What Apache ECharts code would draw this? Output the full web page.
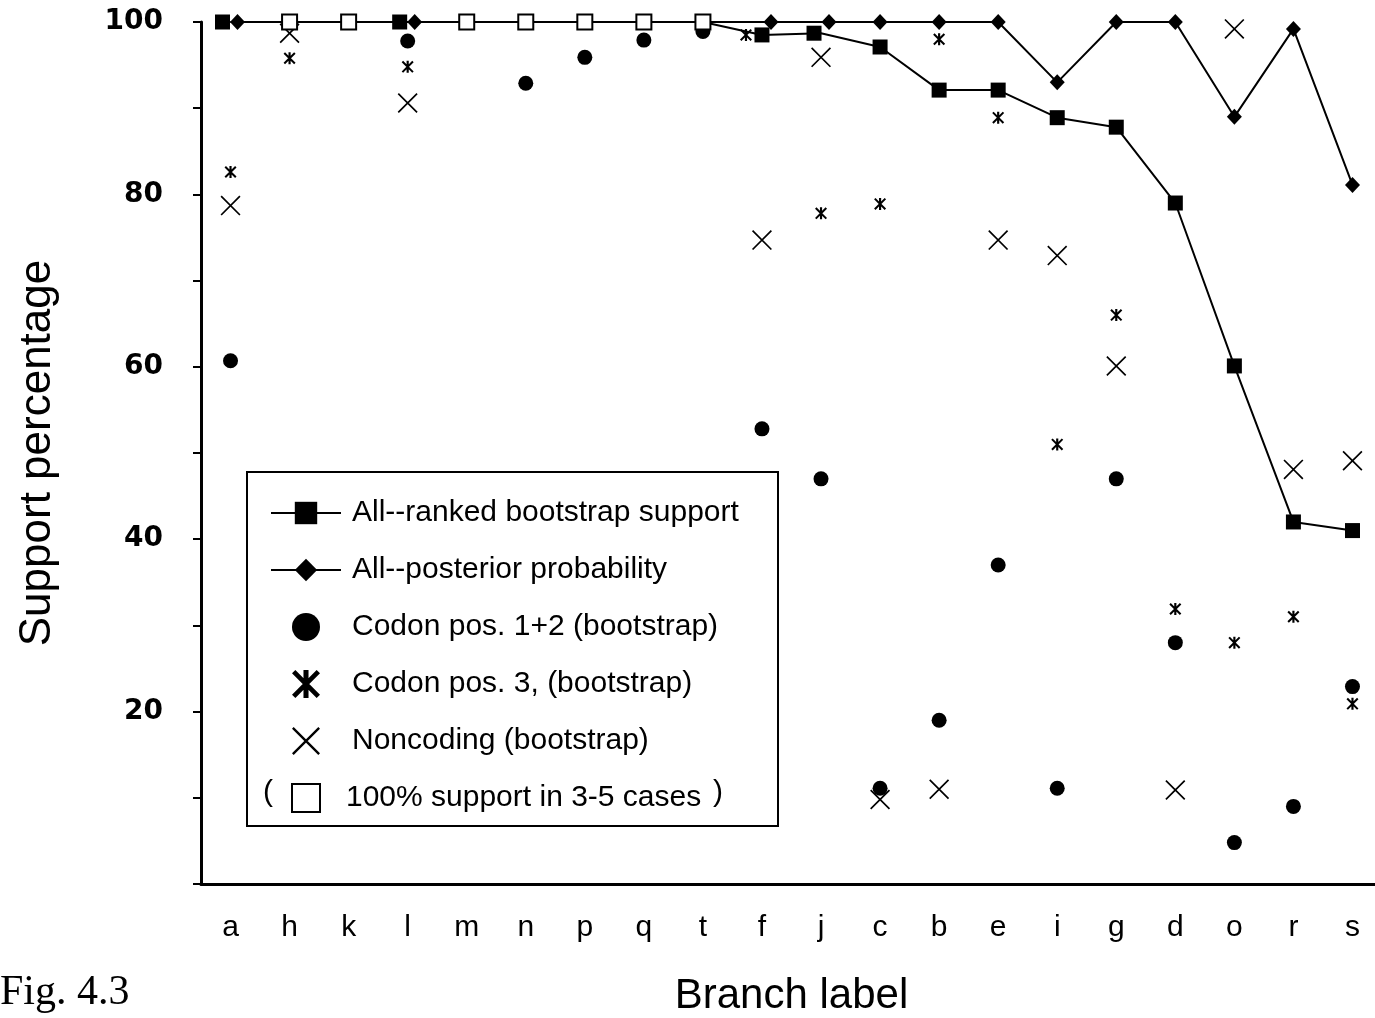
<!DOCTYPE html>
<html>
<head>
<meta charset="utf-8">
<script src="https://cdn.jsdelivr.net/npm/echarts@6/dist/echarts.min.js"></script>
<style>
  html, body { margin: 0; padding: 0; background: #fff; }
  #chart { width: 1375px; height: 1018px; }
</style>
</head>
<body>
<div id="chart"></div>
<script>
// branch labels along the x axis
var categories = ['a', 'h', 'k', 'l', 'm', 'n', 'p', 'q', 't', 'f', 'j', 'c', 'b', 'e', 'i', 'g', 'd', 'o', 'r', 's']

// support percentages
var rankedBootstrap = [100, 100, 100, 100, 100, 100, 100, 100, 100, 98.5, 98.7, 97.1, 92.1, 92.1, 88.9, 87.8, 79, 60.1, 42, 41]
var posterior = [100, 100, 100, 100, 100, 100, 100, 100, 100, 100, 100, 100, 100, 100, 93, 100, 100, 89, 99.2, 81.1]
var codon12 = [60.7, null, null, 97.8, null, 92.9, 95.9, 97.9, 98.9, 52.8, 47, 11.1, 19, 37, 11.1, 47, 28, 4.8, 9, 22.9]
var codon3 = [82.6, 95.8, null, 94.8, null, null, null, null, null, 98.5, 77.8, 78.9, 98, 88.9, 51, 66, 31.9, 28, 31, 20.9]
var noncoding = [78.7, 98.7, null, 90.6, null, null, null, null, null, 74.7, 95.9, 9.8, 11, 74.7, 72.9, 60.1, 10.9, 99.2, 48.1, 49.1]
var fullSupport = [null, 100, 100, null, 100, 100, 100, 100, 100, null, null, null, null, null, null, null, null, null, null, null]

var yTicks = [20, 40, 60, 80, 100]

var seriesNames = [
  'All--ranked bootstrap support',
  'All--posterior probability',
  'Codon pos. 1+2 (bootstrap)',
  'Codon pos. 3, (bootstrap)',
  'Noncoding (bootstrap)',
  '100% support in 3-5 cases'
]

// marker shapes
var crossPath = 'path://M0,6L6,0L100,94L94,100ZM94,0L100,6L6,100L0,94Z'
var starPath = 'path://M0,12L12,0L100,88L88,100ZM88,0L100,12L12,100L0,88ZM41,0L59,0L59,100L41,100Z'
var boxPath = 'path://M0,0L100,0L100,100L0,100Z'

// where two markers sit on top of each other the figure nudges them sideways
var squareShift = { 0: -8, 3: -8, 10: -7 }
var diamondShift = { 0: 7, 3: 7, 9: 9, 10: 8 }
var starShift = { 9: -16 }

function shifted (values, shifts) {
  return values.map(function (v, i) {
    if (shifts[i] === undefined || v === null) return v
    return { value: v, symbolOffset: [shifts[i], 0] }
  })
}

var sansFont = '"Liberation Sans", Arial, Helvetica, sans-serif'

var chart = echarts.init(document.getElementById('chart'))
chart.setOption({
  backgroundColor: '#fff',
  animation: false,
  grid: {
    left: 201,
    top: 22,
    width: 1181,
    height: 862,
    containLabel: false,
    outerBoundsMode: 'none'
  },
  xAxis: {
    type: 'category',
    data: categories,
    boundaryGap: true,
    name: 'Branch label',
    nameLocation: 'middle',
    nameGap: 91,
    nameTextStyle: { fontFamily: sansFont, fontSize: 42, color: '#000' },
    axisLine: { lineStyle: { color: '#000', width: 3 } },
    axisTick: { alignWithLabel: true, length: 7, lineStyle: { color: '#000', width: 2 } },
    axisLabel: { fontFamily: sansFont, fontSize: 30, color: '#000', margin: 29, interval: 0 },
    splitLine: { show: false }
  },
  yAxis: {
    type: 'value',
    min: 0,
    max: 100,
    interval: 10,
    name: 'Support percentage',
    nameLocation: 'middle',
    nameRotate: 90,
    nameGap: 141,
    nameTextStyle: { fontFamily: sansFont, fontSize: 44, color: '#000' },
    axisLine: { show: true, lineStyle: { color: '#000', width: 3 } },
    axisTick: { show: true, inside: false, length: 8, lineStyle: { color: '#000', width: 2 } },
    axisLabel: {
      fontFamily: '"DejaVu Sans", sans-serif',
      fontWeight: 'bold',
      fontSize: 28,
      color: '#000',
      margin: 38,
      padding: [9, 0, 0, 0],
      formatter: function (v) {
        return yTicks.indexOf(v) >= 0 ? String(v) : ''
      }
    },
    splitLine: { show: false }
  },
  legend: {
    orient: 'vertical',
    left: 265,
    top: 493,
    itemWidth: 70,
    itemHeight: 28,
    itemGap: 27,
    selectedMode: false,
    textStyle: { fontFamily: sansFont, fontSize: 30, lineHeight: 30, color: '#000' },
    data: seriesNames.map(function (n, i) {
      return i < 5 ? { name: n, textStyle: { padding: [0, 0, 0, 6] } } : { name: n }
    })
  },
  graphic: [
    {
      type: 'rect',
      shape: { x: 247, y: 472, width: 531, height: 354 },
      style: { fill: 'none', stroke: '#000', lineWidth: 2 },
      z: 1
    },
    {
      type: 'text',
      x: 268,
      y: 793,
      style: { text: '(', font: '30px ' + sansFont, fill: '#000', textVerticalAlign: 'middle', textAlign: 'center' }
    },
    {
      type: 'text',
      x: 718,
      y: 793,
      style: { text: ')', font: '30px ' + sansFont, fill: '#000', textVerticalAlign: 'middle', textAlign: 'center' }
    },
    {
      type: 'text',
      x: 0,
      y: 1014,
      style: { text: 'Fig. 4.3', font: '42px "Liberation Serif", "Times New Roman", serif', fill: '#000', textVerticalAlign: 'bottom' }
    }
  ],
  series: [
    {
      name: seriesNames[0],
      type: 'line',
      data: shifted(rankedBootstrap, squareShift),
      symbol: 'rect',
      symbolSize: 15,
      showAllSymbol: true,
      itemStyle: { color: '#000', opacity: 1 },
      lineStyle: { color: '#000', width: 2 },
      z: 3
    },
    {
      name: seriesNames[1],
      type: 'line',
      data: shifted(posterior, diamondShift),
      symbol: 'diamond',
      symbolSize: [15, 16],
      showAllSymbol: true,
      itemStyle: { color: '#000', opacity: 1 },
      lineStyle: { color: '#000', width: 2 },
      z: 4
    },
    {
      name: seriesNames[2],
      type: 'scatter',
      data: codon12,
      symbol: 'circle',
      symbolSize: 15,
      itemStyle: { color: '#000', opacity: 1 },
      z: 2
    },
    {
      name: seriesNames[3],
      type: 'scatter',
      data: shifted(codon3, starShift),
      symbol: starPath,
      symbolSize: 12,
      itemStyle: { color: '#000', opacity: 1 },
      z: 2
    },
    {
      name: seriesNames[4],
      type: 'scatter',
      data: noncoding,
      symbol: crossPath,
      symbolSize: 20,
      itemStyle: { color: '#000', opacity: 1 },
      z: 2
    },
    {
      name: seriesNames[5],
      type: 'scatter',
      data: fullSupport,
      symbol: boxPath,
      symbolSize: 15,
      symbolKeepAspect: true,
      itemStyle: { color: '#fff', borderColor: '#000', borderWidth: 2, opacity: 1 },
      z: 6
    }
  ]
})
</script>
</body>
</html>
